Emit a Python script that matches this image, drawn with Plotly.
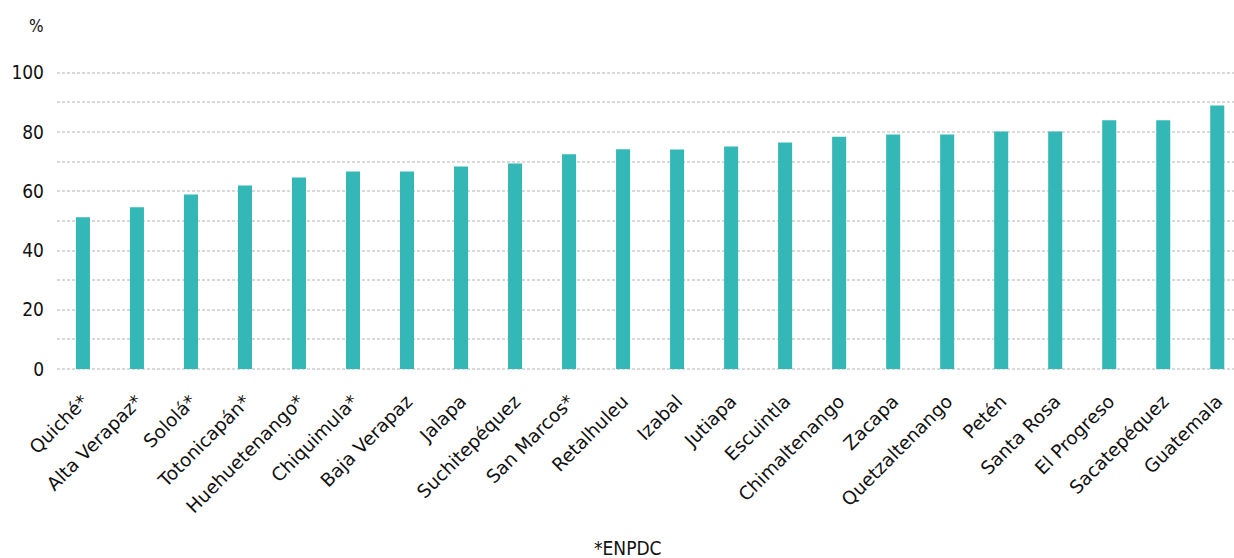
import plotly.graph_objects as go

# Departamentos, ordered by value
departamentos = [
    "Quiché*", "Alta Verapaz*", "Sololá*", "Totonicapán*", "Huehuetenango*",
    "Chiquimula*", "Baja Verapaz", "Jalapa", "Suchitepéquez", "San Marcos*",
    "Retalhuleu", "Izabal", "Jutiapa", "Escuintla", "Chimaltenango", "Zacapa",
    "Quetzaltenango", "Petén", "Santa Rosa", "El Progreso", "Sacatepéquez",
    "Guatemala",
]
porcentajes = [
    51.2, 54.6, 58.9, 62.0, 64.7, 66.7, 66.7, 68.4, 69.4, 72.5, 74.2,
    74.1, 75.1, 76.5, 78.4, 79.2, 79.2, 80.2, 80.2, 84.0, 84.0, 89.0,
]
y_ticks = [0, 20, 40, 60, 80, 100]

label_font = "DejaVu Sans, sans-serif"
tick_font = "DejaVu Sans Condensed, DejaVu Sans, sans-serif"
bar_color = "#34b8b7"
grid_color = "#d9d9d9"
text_color = "#111111"

fig = go.Figure(
    go.Bar(
        x=list(range(len(departamentos))),
        y=porcentajes,
        width=0.26,
        marker=dict(color=bar_color, line=dict(width=0)),
        hoverinfo="skip",
    )
)

fig.update_layout(
    width=1234,
    height=558,
    margin=dict(l=57, r=0, t=58, b=186),
    plot_bgcolor="white",
    paper_bgcolor="white",
    showlegend=False,
    font=dict(family=tick_font, color=text_color),
    annotations=[
        dict(text="%", xref="paper", yref="paper", x=0, y=1.0,
             xshift=-11, yshift=32, showarrow=False,
             xanchor="right", yanchor="middle",
             font=dict(size=17, family=tick_font, color=text_color)),
        dict(text="*ENPDC", xref="paper", yref="paper", x=0.485, y=0,
             yshift=-176, showarrow=False, xanchor="center", yanchor="middle",
             font=dict(size=19, family=tick_font, color=text_color)),
    ],
)

fig.update_xaxes(
    range=[-0.48, 21.31],
    tickmode="array",
    tickvals=list(range(len(departamentos))),
    ticktext=departamentos,
    tickangle=-45,
    tickfont=dict(size=18.5, family=label_font, color=text_color),
    ticklabelstandoff=14,
    showgrid=False,
    showline=False,
    zeroline=False,
    ticks="",
)

fig.update_yaxes(
    range=[-1, 105],
    tickmode="array",
    tickvals=y_ticks,
    tickfont=dict(size=19, family=tick_font, color=text_color),
    showgrid=False,
    zeroline=False,
    showline=False,
    ticks="",
    ticklabelstandoff=12,
    minor=dict(tick0=0, dtick=10, showgrid=True, gridcolor=grid_color,
               griddash="3px,2px", gridwidth=2),
)

fig.write_html("out.html")
